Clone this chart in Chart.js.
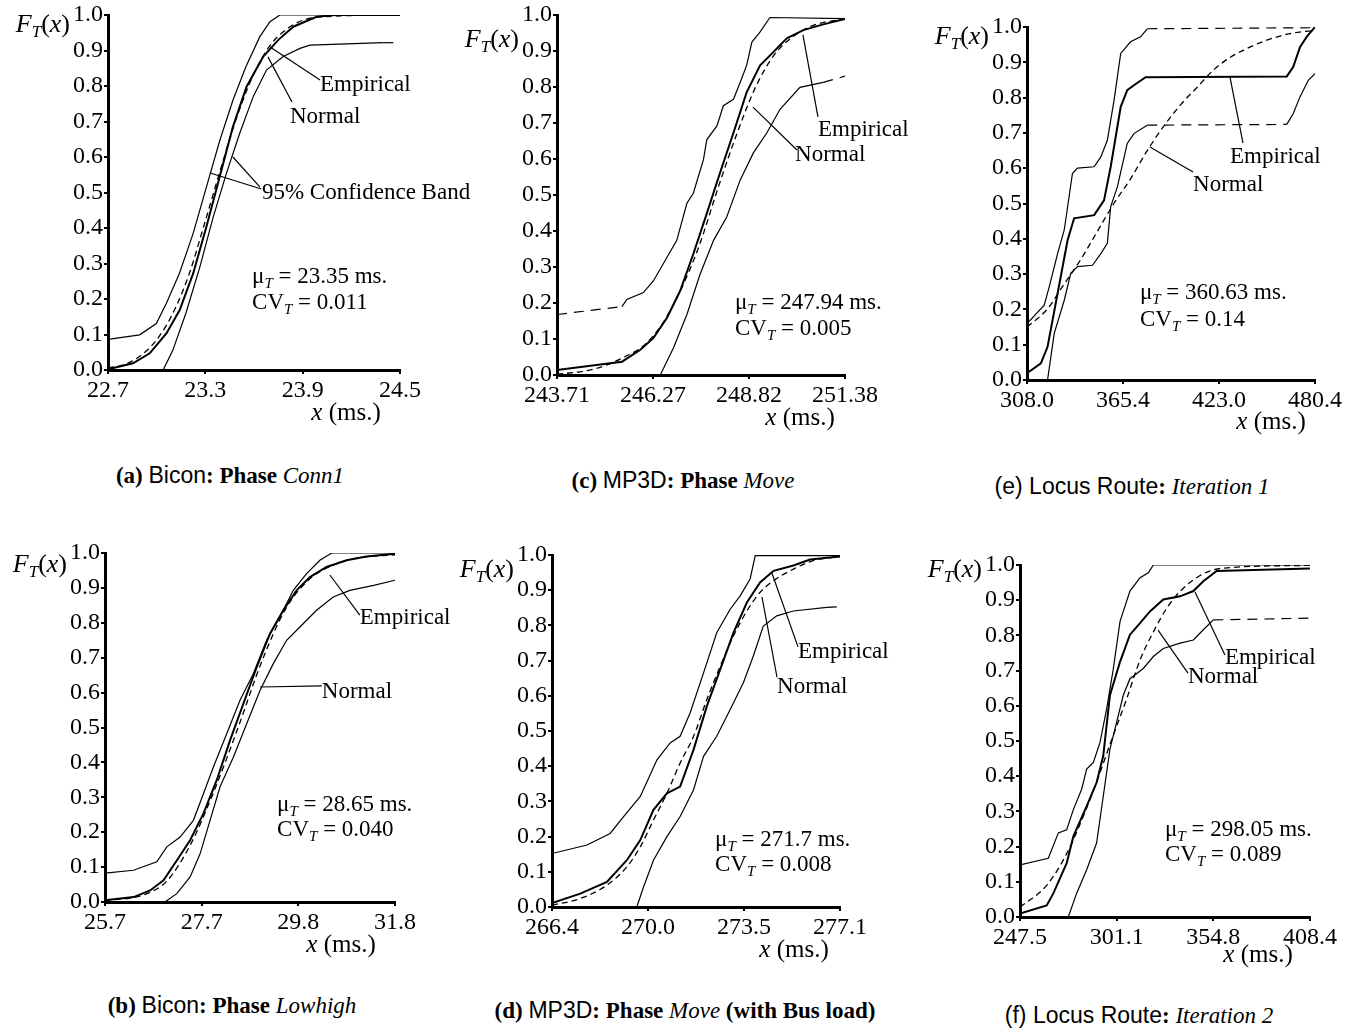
<!DOCTYPE html>
<html>
<head>
<meta charset="utf-8">
<script src="https://cdn.jsdelivr.net/npm/chart.js@4.4.1/dist/chart.umd.min.js"></script>
<style>
  body { margin: 0; background: #fff; }
  #page { position: relative; width: 1356px; height: 1032px; overflow: hidden; background: #fff; }
  canvas { position: absolute; }
  .cap { position: absolute; transform: translate(-50%, -50%); white-space: nowrap;
         font: 23px "Liberation Serif", "Times New Roman", serif; color: #000; }
  .cap .s { font-family: "Liberation Sans", Arial, sans-serif; }
</style>
</head>
<body>
<div id="page"></div>
<script>
// ---- (a) Bicon: Phase Conn1 ----
const conn1Ticks = ['22.7', '23.3', '23.9', '24.5'];
const conn1Upper = [[22.7,0.086],[22.895,0.099],[22.998,0.131],[23.06,0.188],[23.14,0.272],[23.225,0.385],[23.307,0.516],[23.39,0.648],[23.47,0.76],[23.55,0.854],[23.636,0.939],[23.698,0.981],[23.76,1.0],[24.5,1.0]];
const conn1Emp = [[22.7,0.002],[22.854,0.019],[22.957,0.047],[23.06,0.103],[23.142,0.169],[23.225,0.272],[23.307,0.404],[23.389,0.545],[23.47,0.685],[23.554,0.798],[23.657,0.883],[23.75,0.93],[23.842,0.967],[23.986,0.995],[24.1,1.0],[24.5,1.0]];
const conn1Norm = [[22.7,0.006],[22.8,0.015],[22.9,0.04],[23.0,0.085],[23.1,0.16],[23.2,0.27],[23.3,0.42],[23.4,0.575],[23.5,0.72],[23.6,0.835],[23.7,0.915],[23.8,0.96],[23.9,0.985],[24.1,0.997],[24.5,1.0]];
const conn1Lower = [[23.04,0],[23.1,0.056],[23.18,0.16],[23.266,0.29],[23.348,0.43],[23.43,0.554],[23.512,0.667],[23.595,0.77],[23.677,0.845],[23.78,0.883],[23.883,0.906],[23.945,0.915],[24.397,0.922],[24.5,0.922]];

// ---- (c) MP3D: Phase Move ----
const moveTicks = ['243.71', '246.27', '248.82', '251.38'];
const moveUpper = [[243.71,0.168],[245.44,0.19],[245.57,0.21],[246.01,0.229],[246.28,0.262],[246.64,0.327],[246.9,0.374],[247.17,0.477],[247.34,0.505],[247.61,0.598],[247.7,0.654],[247.97,0.692],[248.14,0.748],[248.41,0.766],[248.59,0.813],[248.76,0.86],[248.9,0.925],[249.12,0.953],[249.38,0.993],[251.38,0.99]];
const moveEmp = [[243.71,0.014],[245.44,0.037],[245.93,0.07],[246.28,0.103],[246.64,0.159],[246.99,0.234],[247.34,0.336],[247.7,0.449],[248.05,0.561],[248.41,0.673],[248.76,0.785],[249.12,0.86],[249.47,0.897],[249.83,0.935],[250.27,0.958],[250.8,0.974],[251.38,0.989]];
const moveNorm = [[243.71,0.002],[244.5,0.012],[245.04,0.028],[245.5,0.05],[246.0,0.08],[246.5,0.14],[247.0,0.235],[247.5,0.36],[248.0,0.52],[248.5,0.67],[249.0,0.8],[249.5,0.89],[250.0,0.94],[250.5,0.97],[251.38,0.99]];
const moveLower = [[246.46,0],[246.81,0.075],[247.17,0.168],[247.52,0.28],[247.88,0.374],[248.23,0.439],[248.59,0.542],[248.94,0.617],[249.3,0.673],[249.65,0.738],[250.18,0.799],[250.8,0.813],[251.38,0.83]];

// ---- (e) Locus Route: Iteration 1 ----
const iter1Ticks = ['308.0', '365.4', '423.0', '480.4'];
const iter1Upper = [[308,0.16],[318.3,0.212],[321.3,0.264],[326.3,0.358],[330.3,0.425],[335.2,0.585],[338.2,0.6],[348.2,0.604],[352.2,0.632],[356.1,0.679],[360.1,0.792],[364.1,0.925],[370,0.958],[376,0.972],[380,0.995],[480.4,0.998]];
const iter1Emp = [[308,0.019],[316.3,0.047],[320.3,0.094],[326.3,0.245],[332.3,0.396],[336.2,0.458],[348.2,0.467],[354.1,0.509],[358.1,0.604],[364.1,0.774],[368,0.821],[372,0.835],[379,0.858],[463.5,0.86],[467.4,0.887],[471.4,0.943],[475.4,0.972],[480.4,1.0]];
const iter1Norm = [[308,0.15],[320,0.2],[330,0.27],[340,0.34],[350,0.42],[360,0.5],[370,0.57],[380,0.65],[390,0.72],[400,0.78],[410,0.83],[420,0.88],[430,0.915],[440,0.94],[450,0.96],[460,0.975],[470,0.985],[480.4,0.99]];
const iter1Lower = [[320.3,0],[324.3,0.132],[330.3,0.226],[334.2,0.302],[338.2,0.321],[347.2,0.325],[352.2,0.358],[356.1,0.387],[358.1,0.491],[362.1,0.547],[368,0.67],[372,0.698],[380,0.722],[463.5,0.724],[467.4,0.755],[471.4,0.802],[476.4,0.849],[480.4,0.868]];

// ---- (b) Bicon: Phase Lowhigh ----
const lowTicks = ['25.7', '27.7', '29.8', '31.8'];
const lowUpper = [[25.7,0.083],[26.3,0.091],[26.79,0.115],[27.0,0.158],[27.28,0.186],[27.56,0.234],[27.77,0.31],[27.98,0.387],[28.26,0.482],[28.54,0.578],[28.82,0.654],[29.1,0.75],[29.38,0.817],[29.66,0.893],[29.94,0.941],[30.22,0.979],[30.47,1.0],[31.8,1.0]];
const lowEmp = [[25.7,0.005],[26.3,0.014],[26.65,0.033],[26.93,0.062],[27.21,0.119],[27.49,0.177],[27.77,0.253],[28.05,0.349],[28.33,0.463],[28.61,0.568],[28.89,0.673],[29.17,0.769],[29.45,0.836],[29.73,0.893],[30.01,0.931],[30.36,0.96],[30.78,0.979],[31.2,0.99],[31.8,0.998]];
const lowNorm = [[25.7,0.004],[26.5,0.02],[27.0,0.06],[27.5,0.165],[28.0,0.32],[28.5,0.5],[29.0,0.69],[29.5,0.84],[30.0,0.925],[30.5,0.965],[31.0,0.985],[31.8,0.995]];
const lowLower = [[26.96,0],[27.21,0.024],[27.49,0.072],[27.7,0.138],[27.91,0.234],[28.12,0.33],[28.4,0.415],[28.68,0.511],[28.96,0.606],[29.24,0.683],[29.52,0.75],[29.8,0.788],[30.15,0.836],[30.5,0.874],[30.85,0.893],[31.35,0.907],[31.8,0.922]];

// ---- (d) MP3D: Phase Move (with Bus load) ----
const busTicks = ['266.4', '270.0', '273.5', '277.1'];
const busUpper = [[266.4,0.152],[267.7,0.176],[268.56,0.209],[269.06,0.257],[269.68,0.314],[270.3,0.418],[270.79,0.466],[271.16,0.485],[271.53,0.551],[272.03,0.665],[272.52,0.779],[273.02,0.846],[273.39,0.884],[273.76,0.932],[273.95,0.998],[277.1,0.998]];
const busEmp = [[266.4,0.011],[267.45,0.038],[268.44,0.071],[269.18,0.133],[269.68,0.19],[270.17,0.276],[270.67,0.323],[271.16,0.342],[271.66,0.447],[272.15,0.57],[272.65,0.675],[273.14,0.779],[273.64,0.865],[274.13,0.922],[274.63,0.955],[275.37,0.97],[275.99,0.987],[277.1,0.996]];
const busNorm = [[266.4,0.005],[267.45,0.024],[268.44,0.062],[269.18,0.114],[269.68,0.171],[270.17,0.247],[270.67,0.323],[271.16,0.409],[271.66,0.485],[272.15,0.589],[272.65,0.684],[273.14,0.77],[273.64,0.841],[274.13,0.894],[274.63,0.927],[275.37,0.96],[276.1,0.984],[277.1,0.996]];
const busLower = [[269.55,0],[269.8,0.057],[270.17,0.133],[270.67,0.2],[271.16,0.257],[271.66,0.333],[272.03,0.428],[272.52,0.485],[273.02,0.561],[273.51,0.637],[273.88,0.713],[274.25,0.798],[274.75,0.827],[275.37,0.841],[276.61,0.851],[277.1,0.853]];

// ---- (f) Locus Route: Iteration 2 ----
const iter2Ticks = ['247.5', '301.1', '354.8', '408.4'];
const iter2Upper = [[247.5,0.148],[263.2,0.167],[268.8,0.239],[273.4,0.248],[277.1,0.305],[281.7,0.363],[284.5,0.42],[288.2,0.439],[291.9,0.496],[295.6,0.592],[299.3,0.706],[303,0.84],[308.5,0.926],[314.1,0.964],[318.7,0.978],[321.5,1.0],[408.4,1.0]];
const iter2Emp = [[247.5,0.01],[262.3,0.033],[266,0.067],[273.4,0.153],[277.1,0.229],[284.5,0.315],[290,0.382],[293.7,0.458],[297.4,0.63],[303,0.725],[308.5,0.802],[314.1,0.835],[319.6,0.868],[327,0.902],[336.3,0.911],[343.7,0.926],[349.2,0.954],[356.6,0.983],[408.4,0.99]];
const iter2Norm = [[247.5,0.028],[262.3,0.09],[273.4,0.18],[284.5,0.31],[291.9,0.41],[297.4,0.49],[306.7,0.62],[314.1,0.73],[321.5,0.81],[328.9,0.877],[336.3,0.925],[347.4,0.97],[358.5,0.99],[408.4,0.999]];
const iter2Lower = [[274.3,0],[278.9,0.067],[284.5,0.134],[290,0.21],[293.7,0.343],[297.4,0.477],[301.1,0.553],[304.8,0.63],[308.5,0.677],[315.9,0.706],[321.5,0.74],[327,0.763],[336.3,0.778],[343.7,0.787],[349.2,0.816],[354.8,0.844],[408.4,0.849]];

const yTicks = ['0.0','0.1','0.2','0.3','0.4','0.5','0.6','0.7','0.8','0.9','1.0'];

const SERIF = '"Liberation Serif", "Times New Roman", serif';

// panel layout: chart area box in page px, dashed ranges, annotations in data units
const panels = [
    { ticks: conn1Ticks, upper: conn1Upper, emp: conn1Emp, norm: conn1Norm, lower: conn1Lower,
      mean: '23.35', cv: '0.011', box: [108, 15, 400, 370], ftDy: 10, msDx: -54, msDy: 43,
      dashUpper: [], dashLower: [[24.397, 24.5]],
      labels: [[24.007, 0.803, 'Empirical'], [23.822, 0.713, 'Normal'], [23.649, 0.499, '95% Confidence Band']],
      stats: [23.588, 0.262, 0.189],
      leaders: [[23.699, 0.91, 24.007, 0.817], [23.686, 0.882, 23.834, 0.755],
                [23.33, 0.555, 23.645, 0.51], [23.47, 0.6, 23.637, 0.515]] },
    { ticks: moveTicks, upper: moveUpper, emp: moveEmp, norm: moveNorm, lower: moveLower,
      mean: '247.94', cv: '0.005', box: [557, 15, 845, 375], ftDy: 25, msDx: -45, msDy: 43,
      dashUpper: [[243.71, 245.44]], dashLower: [[250.8, 251.38]],
      labels: [[250.66, 0.681, 'Empirical'], [250.05, 0.611, 'Normal']],
      stats: [248.45, 0.2, 0.128],
      leaders: [[250.26, 0.945, 250.66, 0.717], [248.93, 0.744, 250.1, 0.625]] },
    { ticks: iter1Ticks, upper: iter1Upper, emp: iter1Emp, norm: iter1Norm, lower: iter1Lower,
      mean: '360.63', cv: '0.14', box: [1027, 27, 1315, 380], ftDy: 10, msDx: -44, msDy: 42,
      dashUpper: [[380, 480.4]], dashLower: [[380, 463.5]],
      labels: [[429.5, 0.632, 'Empirical'], [407.4, 0.552, 'Normal']],
      stats: [375.6, 0.246, 0.17],
      leaders: [[429.5, 0.858, 437.3, 0.671], [381.6, 0.66, 407.4, 0.589]] },
    { ticks: lowTicks, upper: lowUpper, emp: lowEmp, norm: lowNorm, lower: lowLower,
      mean: '28.65', cv: '0.040', box: [105, 553, 395, 902], ftDy: 12, msDx: -54, msDy: 43,
      dashUpper: [], dashLower: [],
      labels: [[31.06, 0.814, 'Empirical'], [30.26, 0.602, 'Normal']],
      stats: [29.32, 0.278, 0.206],
      leaders: [[30.43, 0.937, 31.06, 0.822], [28.96, 0.616, 30.26, 0.619]] },
    { ticks: busTicks, upper: busUpper, emp: busEmp, norm: busNorm, lower: busLower,
      mean: '271.7', cv: '0.008', box: [552, 555, 840, 907], ftDy: 15, msDx: -46, msDy: 43,
      dashUpper: [], dashLower: [[276.61, 277.1]],
      labels: [[275.54, 0.724, 'Empirical'], [274.76, 0.625, 'Normal']],
      stats: [272.46, 0.19, 0.119],
      leaders: [[274.57, 0.949, 275.54, 0.739], [274.2, 0.881, 274.76, 0.653]] },
    { ticks: iter2Ticks, upper: iter2Upper, emp: iter2Emp, norm: iter2Norm, lower: iter2Lower,
      mean: '298.05', cv: '0.089', box: [1020, 565, 1310, 917], ftDy: 5, msDx: -52, msDy: 38,
      dashUpper: [], dashLower: [[354.8, 408.4]],
      labels: [[361.2, 0.736, 'Empirical'], [340.7, 0.682, 'Normal']],
      stats: [327.95, 0.247, 0.176],
      leaders: [[344.6, 0.923, 361.2, 0.744], [324.1, 0.815, 340.7, 0.693]] },
];

const captions = [
    [230, 475, '<b>(a)</b> <span class="s">Bicon</span><b>:</b> <b>Phase</b> <i>Conn1</i>'],
    [683, 480, '<b>(c)</b> <span class="s">MP3D</span><b>:</b> <b>Phase</b> <i>Move</i>'],
    [1132, 486, '<span class="s">(e) Locus Route</span><b>:</b> <i>Iteration 1</i>'],
    [232, 1005, '<b>(b)</b> <span class="s">Bicon</span><b>:</b> <b>Phase</b> <i>Lowhigh</i>'],
    [685, 1010, '<b>(d)</b> <span class="s">MP3D</span><b>:</b> <b>Phase</b> <i>Move</i> <b>(with Bus load)</b>'],
    [1139, 1015, '<span class="s">(f) Locus Route</span><b>:</b> <i>Iteration 2</i>'],
];

// draw a run of text pieces (italic / subscript) in one line
function drawRich(ctx, x, y, parts, size, align) {
    const fontOf = p => (p.it ? 'italic ' : '') + (p.sub ? Math.round(size * 0.66) : size) + 'px ' + SERIF;
    let w = 0;
    parts.forEach(p => { ctx.font = fontOf(p); w += ctx.measureText(p.t).width; });
    let cx = align === 'right' ? x - w : align === 'center' ? x - w / 2 : x;
    parts.forEach(p => {
        ctx.font = fontOf(p);
        ctx.fillText(p.t, cx, y + (p.sub ? size * 0.3 : 0));
        cx += ctx.measureText(p.t).width;
    });
}

const notesPlugin = {
    id: 'notes',
    afterDraw(chart) {
        const p = chart.options.plugins.notes.panel;
        const xs = chart.scales.x, ys = chart.scales.y, ctx = chart.ctx;
        const area = chart.chartArea;
        ctx.save();
        ctx.fillStyle = '#000';
        ctx.strokeStyle = '#000';
        ctx.lineWidth = 1.2;
        ctx.textAlign = 'left';
        ctx.textBaseline = 'middle';
        p.leaders.forEach(l => {
            ctx.beginPath();
            ctx.moveTo(xs.getPixelForValue(l[0]), ys.getPixelForValue(l[1]));
            ctx.lineTo(xs.getPixelForValue(l[2]), ys.getPixelForValue(l[3]));
            ctx.stroke();
        });
        p.labels.forEach(l => drawRich(ctx, xs.getPixelForValue(l[0]), ys.getPixelForValue(l[1]), [{ t: l[2] }], 23));
        const sx = xs.getPixelForValue(p.stats[0]);
        drawRich(ctx, sx, ys.getPixelForValue(p.stats[1]),
            [{ t: 'μ' }, { t: 'T', it: true, sub: true }, { t: ' = ' + p.mean + ' ms.' }], 23);
        drawRich(ctx, sx, ys.getPixelForValue(p.stats[2]),
            [{ t: 'CV' }, { t: 'T', it: true, sub: true }, { t: ' = ' + p.cv }], 23);
        // axis titles
        drawRich(ctx, area.left - 38, area.top + p.ftDy,
            [{ t: 'F', it: true }, { t: 'T', it: true, sub: true }, { t: '(' }, { t: 'x', it: true }, { t: ')' }], 26, 'right');
        drawRich(ctx, area.right + p.msDx, area.bottom + p.msDy,
            [{ t: 'x', it: true }, { t: ' (ms.)' }], 25, 'center');
        ctx.restore();
    }
};

const dashIn = ranges => c => ranges.some(r => c.p0.parsed.x >= r[0] - 1e-6 && c.p1.parsed.x <= r[1] + 1e-6) ? [10, 7] : undefined;

const page = document.getElementById('page');
const mL = 105, mT = 30, mR = 95, mB = 70, yW = 40, xH = 30;

panels.forEach(p => {
    const [L, T, R, B] = p.box;
    const canvas = document.createElement('canvas');
    canvas.width = R - L + mL + mR;
    canvas.height = B - T + mT + mB;
    canvas.style.left = (L - mL) + 'px';
    canvas.style.top = (T - mT) + 'px';
    page.appendChild(canvas);

    const xMin = parseFloat(p.ticks[0]);
    const xMax = parseFloat(p.ticks[p.ticks.length - 1]);
    // bands and empirical are jagged polylines, the normal curve is smooth
    const line = (data, width, dash, seg, smooth) => ({
        data: data, borderColor: '#000', borderWidth: width, pointRadius: 0, fill: false,
        tension: 0, cubicInterpolationMode: smooth ? 'monotone' : 'default', borderDash: dash || [],
        segment: seg ? { borderDash: dashIn(seg) } : {}
    });

    new Chart(canvas.getContext('2d'), {
        type: 'line',
        data: {
            datasets: [
                line(p.upper, 1.2, null, p.dashUpper),
                line(p.lower, 1.2, null, p.dashLower),
                line(p.norm, 1.3, [6, 4], null, true),
                line(p.emp, 2.0),
            ]
        },
        options: {
            responsive: false,
            animation: false,
            layout: { padding: { left: mL - yW, top: mT, right: mR, bottom: mB - xH } },
            plugins: { legend: { display: false }, tooltip: { enabled: false }, notes: { panel: p } },
            scales: {
                x: {
                    type: 'linear', min: xMin, max: xMax,
                    afterBuildTicks: s => { s.ticks = p.ticks.map((t, i) => ({ value: xMin + i * (xMax - xMin) / (p.ticks.length - 1) })); },
                    afterFit: s => { s.height = xH; },
                    border: { display: true, color: '#000', width: 3 },
                    grid: { drawOnChartArea: false, drawTicks: true, tickLength: 4, color: '#000', lineWidth: 2 },
                    ticks: { color: '#000', padding: 2, maxRotation: 0, autoSkip: false,
                             font: { family: SERIF, size: 24 },
                             callback: (v, i) => p.ticks[i] }
                },
                y: {
                    min: 0, max: 1,
                    afterBuildTicks: s => { s.ticks = yTicks.map(t => ({ value: parseFloat(t) })); },
                    afterFit: s => { s.width = yW; },
                    border: { display: true, color: '#000', width: 3 },
                    grid: { drawOnChartArea: false, drawTicks: true, tickLength: 4, color: '#000', lineWidth: 2 },
                    ticks: { color: '#000', padding: 1, autoSkip: false,
                             font: { family: SERIF, size: 24 },
                             callback: (v, i) => yTicks[i] }
                }
            }
        },
        plugins: [notesPlugin]
    });
});

captions.forEach(c => {
    const d = document.createElement('div');
    d.className = 'cap';
    d.style.left = c[0] + 'px';
    d.style.top = c[1] + 'px';
    d.innerHTML = c[2];
    page.appendChild(d);
});
</script>
</body>
</html>
